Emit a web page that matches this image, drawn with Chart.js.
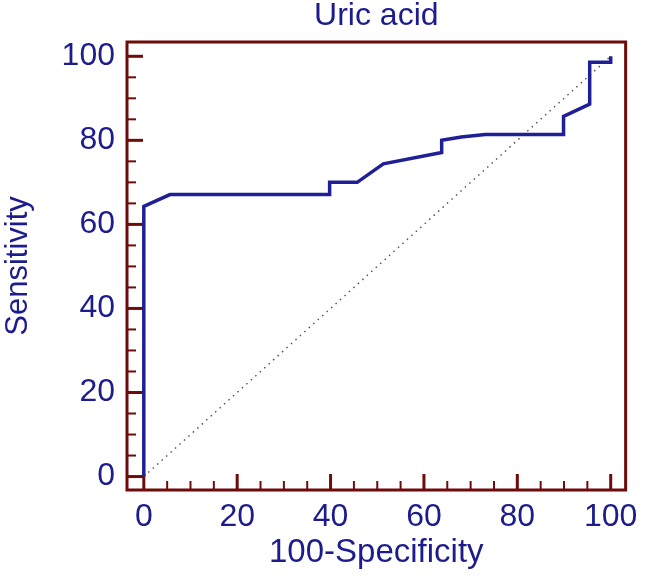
<!DOCTYPE html>
<html>
<head>
<meta charset="utf-8">
<script src="https://cdn.jsdelivr.net/npm/chart.js@4.4.1/dist/chart.umd.min.js"></script>
<style>
  html, body { margin: 0; padding: 0; background: #ffffff; }
  #wrap { width: 646px; height: 581px; }
</style>
</head>
<body>
<div id="wrap"><canvas id="c" width="646" height="581"></canvas></div>
<script>
// ROC curve (100-Specificity, Sensitivity)
const rocX = [0, 0, 5.6, 39.8, 39.8, 45.7, 51.3, 63.8, 63.8, 68.0, 73.1, 89.9, 89.9, 95.5, 95.5, 100, 100];
const rocY = [0, 64.3, 67.1, 67.1, 70.0, 70.0, 74.4, 77.1, 80.0, 80.8, 81.4, 81.4, 85.7, 88.6, 98.6, 98.6, 100];
// reference diagonal
const refX = [0, 100];
const refY = [0, 100];
// tick labels
const xTicks = [0, 20, 40, 60, 80, 100];
const yTicks = [0, 20, 40, 60, 80, 100];
const minorTicks = [0, 5, 10, 15, 20, 25, 30, 35, 40, 45, 50, 55, 60, 65, 70, 75, 80, 85, 90, 95, 100];

const navy = '#1c1c8c';
const lineBlue = '#1f1f96';
const maroon = '#6e0b0b';
const FONT = 'Arial, "Liberation Sans", Helvetica, sans-serif';

const frameTicks = {
  id: 'frameTicks',
  beforeDatasetsDraw(chart) {
    const { ctx, chartArea: a, scales: { x, y } } = chart;
    ctx.save();
    ctx.strokeStyle = maroon;
    ctx.lineCap = 'butt';
    minorTicks.forEach(v => {
      const major = xTicks.includes(v);
      const len = major ? 16 : 9;
      ctx.lineWidth = major ? 3 : 2;
      const px = x.getPixelForValue(v);
      ctx.beginPath();
      ctx.moveTo(px, a.bottom);
      ctx.lineTo(px, a.bottom - len);
      ctx.stroke();
      const majorY = yTicks.includes(v);
      const lenY = majorY ? 16 : 9;
      ctx.lineWidth = majorY ? 3 : 2;
      const py = y.getPixelForValue(v);
      ctx.beginPath();
      ctx.moveTo(a.left, py);
      ctx.lineTo(a.left + lenY, py);
      ctx.stroke();
    });
    ctx.lineWidth = 3;
    ctx.strokeRect(a.left, a.top, a.right - a.left, a.bottom - a.top);
    ctx.restore();
  }
};

const toPts = (xs, ys) => xs.map((v, i) => ({ x: v, y: ys[i] }));

new Chart(document.getElementById('c'), {
  type: 'scatter',
  data: {
    datasets: [
      {
        label: 'Reference',
        data: toPts(refX, refY),
        showLine: true,
        borderColor: '#5a4a4a',
        borderWidth: 1.4,
        borderDash: [1.5, 4.5],
        pointRadius: 0,
        order: 2
      },
      {
        label: 'Uric acid',
        data: toPts(rocX, rocY),
        showLine: true,
        borderColor: lineBlue,
        borderWidth: 3.5,
        pointRadius: 0,
        tension: 0,
        borderJoinStyle: 'miter',
        order: 1
      }
    ]
  },
  options: {
    responsive: false,
    animation: false,
    layout: { padding: { left: 0, right: 16, top: 0, bottom: 0 } },
    plugins: {
      legend: { display: false },
      tooltip: { enabled: false },
      title: {
        display: true,
        text: 'Uric acid',
        fullSize: false,
        color: navy,
        font: { family: FONT, size: 32, weight: 'normal', lineHeight: 1.0 },
        padding: { top: 0, bottom: 10 }
      }
    },
    scales: {
      x: {
        type: 'linear',
        position: 'bottom',
        min: -3.6,
        max: 103.2,
        afterBuildTicks: s => { s.ticks = xTicks.map(v => ({ value: v })); },
        afterFit: s => { s.height = 91; },
        grid: { display: false, drawTicks: false, tickLength: 0 },
        border: { display: false },
        ticks: {
          color: navy,
          font: { family: FONT, size: 32 },
          padding: 8,
          maxRotation: 0,
          autoSkip: false
        },
        title: {
          display: true,
          text: '100-Specificity',
          color: navy,
          font: { family: FONT, size: 33 },
          padding: { top: 0, bottom: 8 }
        }
      },
      y: {
        type: 'linear',
        min: -3.2,
        max: 103.4,
        afterBuildTicks: s => { s.ticks = yTicks.map(v => ({ value: v })); },
        afterFit: s => { s.width = 127; },
        grid: { display: false, drawTicks: false, tickLength: 0 },
        border: { display: false },
        ticks: {
          color: navy,
          font: { family: FONT, size: 32 },
          padding: 12,
          autoSkip: false
        },
        title: {
          display: true,
          text: 'Sensitivity',
          color: navy,
          font: { family: FONT, size: 31 },
          padding: { top: 0, bottom: 0 }
        }
      }
    }
  },
  plugins: [frameTicks]
});
</script>
</body>
</html>
